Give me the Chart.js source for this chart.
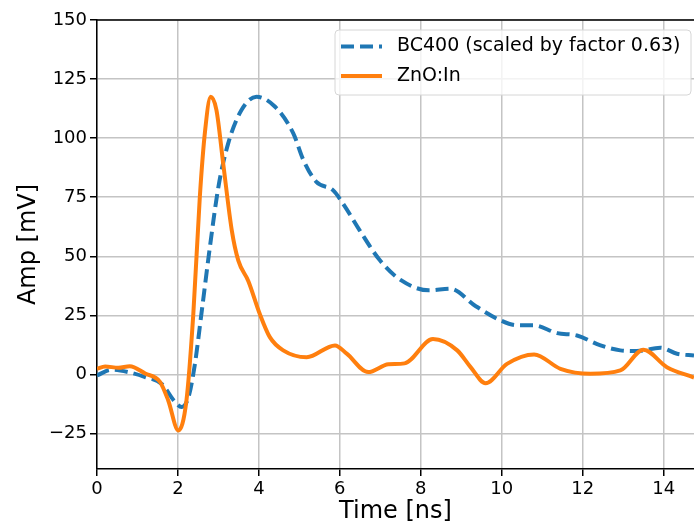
<!DOCTYPE html>
<html>
<head>
<meta charset="utf-8">
<script src="https://cdn.jsdelivr.net/npm/chart.js@4/dist/chart.umd.min.js"></script>
<style>
  html, body { margin: 0; padding: 0; background: #ffffff; }
  #wrap { width: 694px; height: 526px; position: relative; }
</style>
</head>
<body>
<div id="wrap"><canvas id="c"></canvas></div>
<script>
// ---- data ----
const seriesNames = ['BC400 (scaled by factor 0.63)', 'ZnO:In'];

const bcTime = [0, 0.36, 0.77, 1.19, 1.6, 1.93, 2.09, 2.26, 2.42, 2.58, 2.79, 3.0, 3.24, 3.57, 3.94, 4.4, 4.85, 5.1, 5.42, 5.83, 6.08, 6.49, 6.99, 7.5, 8.2, 8.73, 9.35, 9.97, 10.38, 10.79, 11.37, 11.86, 12.44, 12.93, 13.34, 13.92, 14.33, 14.75];
const bcAmp  = [-0.4, 2, 1, -1.1, -4, -11.7, -13.8, -9.6, 4.5, 25.7, 54, 79.4, 97.7, 111.9, 117.5, 113.3, 102, 90.7, 81.5, 78, 72.3, 61, 48.3, 40, 35.6, 36.3, 29, 22.9, 20.8, 20.8, 17.5, 16.5, 12.3, 10.2, 9.9, 11.3, 8.8, 8];

const znoTime = [0, 0.2, 0.53, 0.81, 1.19, 1.56, 1.76, 2.01, 2.21, 2.38, 2.54, 2.67, 2.81, 2.95, 3.12, 3.33, 3.49, 3.74, 4.02, 4.27, 4.6, 5.18, 5.88, 6.17, 6.7, 7.2, 7.6, 8.3, 8.9, 9.23, 9.6, 10.13, 10.8, 11.45, 12.19, 12.93, 13.5, 14.08, 14.75];
const znoAmp  = [2.4, 3.4, 2.8, 3.5, 0.4, -3.2, -11, -23.7, -11, 25.7, 75, 103, 117.5, 112, 89, 61, 48.3, 39.5, 25.7, 15.8, 10.2, 7.3, 12.3, 8.8, 1, 4.3, 4.7, 15, 10.2, 3.1, -3.7, 4.5, 8.5, 2.4, 0.3, 1.7, 10.5, 3.1, -1.3];

const xTicks = [0, 2, 4, 6, 8, 10, 12, 14];
const yTicks = [-25, 0, 25, 50, 75, 100, 125, 150];
const xRange = [0, 14.75];
const yRange = [-40, 150];
const xTitle = 'Time [ns]';
const yTitle = 'Amp [mV]';

// ---- build ----
const toPts = (xs, ys) => xs.map((x, i) => ({ x: x, y: ys[i] }));
const FONT = "'DejaVu Sans', sans-serif";

const frameAndLegend = {
  id: 'frameAndLegend',
  afterDatasetsDraw(chart) {
    const ctx = chart.ctx;
    const a = chart.chartArea;
    ctx.save();
    // top spine
    ctx.strokeStyle = '#000';
    ctx.lineWidth = 1.5;
    ctx.beginPath();
    ctx.moveTo(a.left, a.top);
    ctx.lineTo(a.right, a.top);
    ctx.stroke();

    // legend box inside plot
    const bx = 335, by = 30, bw = 356, bh = 65, r = 4;
    ctx.fillStyle = 'rgba(255,255,255,0.8)';
    ctx.strokeStyle = '#d6d6d6';
    ctx.lineWidth = 1;
    ctx.beginPath();
    ctx.moveTo(bx + r, by);
    ctx.lineTo(bx + bw - r, by);
    ctx.quadraticCurveTo(bx + bw, by, bx + bw, by + r);
    ctx.lineTo(bx + bw, by + bh - r);
    ctx.quadraticCurveTo(bx + bw, by + bh, bx + bw - r, by + bh);
    ctx.lineTo(bx + r, by + bh);
    ctx.quadraticCurveTo(bx, by + bh, bx, by + bh - r);
    ctx.lineTo(bx, by + r);
    ctx.quadraticCurveTo(bx, by, bx + r, by);
    ctx.closePath();
    ctx.fill();
    ctx.stroke();

    const rows = [46.5, 76];
    chart.data.datasets.forEach((ds, i) => {
      const yy = rows[i];
      ctx.strokeStyle = ds.borderColor;
      ctx.lineWidth = ds.borderWidth;
      ctx.lineCap = 'butt';
      ctx.setLineDash(ds.borderDash || []);
      ctx.beginPath();
      ctx.moveTo(341, yy);
      ctx.lineTo(382, yy);
      ctx.stroke();
      ctx.setLineDash([]);
      ctx.fillStyle = '#000';
      ctx.font = '19px ' + FONT;
      ctx.textBaseline = 'middle';
      ctx.textAlign = 'left';
      ctx.fillText(ds.label, 397, yy);
    });
    ctx.restore();
  }
};

new Chart(document.getElementById('c'), {
  type: 'line',
  data: {
    datasets: [
      {
        label: seriesNames[0],
        data: toPts(bcTime, bcAmp),
        borderColor: '#1f77b4',
        backgroundColor: '#1f77b4',
        borderWidth: 4,
        borderDash: [13, 6],
        borderCapStyle: 'butt',
        pointRadius: 0,
        cubicInterpolationMode: 'monotone',
        fill: false,
        order: 1
      },
      {
        label: seriesNames[1],
        data: toPts(znoTime, znoAmp),
        borderColor: '#ff7f0e',
        backgroundColor: '#ff7f0e',
        borderWidth: 4,
        pointRadius: 0,
        cubicInterpolationMode: 'monotone',
        fill: false,
        order: 0
      }
    ]
  },
  options: {
    responsive: true,
    maintainAspectRatio: false,
    animation: false,
    layout: { padding: { top: 20, right: 0, left: 0, bottom: 0 } },
    plugins: {
      legend: { display: false },
      tooltip: { enabled: false }
    },
    scales: {
      x: {
        type: 'linear',
        min: xRange[0],
        max: xRange[1],
        afterBuildTicks: s => { s.ticks = xTicks.map(v => ({ value: v })); },
        afterFit: s => { s.height = 57; },
        grid: { color: '#c4c4c4', lineWidth: 1.5, tickColor: '#000', tickLength: 7, tickWidth: 1.5 },
        border: { display: true, color: '#000', width: 1.5 },
        ticks: {
          color: '#000', font: { family: FONT, size: 18 }, padding: 3,
          maxRotation: 0, autoSkip: false,
          callback: v => String(v).replace('-', '\u2212')
        },
        title: { display: true, text: xTitle, color: '#000', font: { family: FONT, size: 24 }, padding: { top: 0, bottom: 0 } }
      },
      y: {
        type: 'linear',
        min: yRange[0],
        max: yRange[1],
        afterBuildTicks: s => { s.ticks = yTicks.map(v => ({ value: v })); },
        afterFit: s => { s.width = 97; },
        grid: { color: '#c4c4c4', lineWidth: 1.5, tickColor: '#000', tickLength: 7, tickWidth: 1.5 },
        border: { display: true, color: '#000', width: 1.5 },
        ticks: {
          color: '#000', font: { family: FONT, size: 18 }, padding: 3,
          autoSkip: false,
          callback: v => String(v).replace('-', '\u2212')
        },
        title: { display: true, text: yTitle, color: '#000', font: { family: FONT, size: 24 }, padding: { top: 14, bottom: 0 } }
      }
    }
  },
  plugins: [frameAndLegend]
});
</script>
</body>
</html>
